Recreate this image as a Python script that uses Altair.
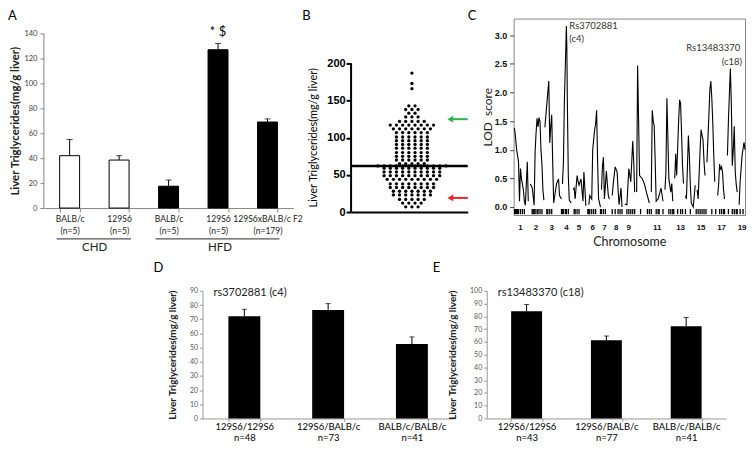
import json
from bisect import bisect_right

import altair as alt
import pandas as pd

FONT = "Lato"
SANS = "Liberation Sans"
YTITLE = "Liver Triglycerides(mg/g liver)"

# ---------------- panel A data ----------------
a_keys = ["chd_balb", "chd_129", "hfd_balb", "hfd_129", "hfd_f2"]
a_strain = ["BALB/c", "129S6", "BALB/c", "129S6", "129S6xBALB/c F2"]
a_n = ["(n=5)", "(n=5)", "(n=5)", "(n=5)", "(n=179)"]
a_diet = ["CHD", "CHD", "HFD", "HFD", "HFD"]
a_mean = [42, 38.5, 17.5, 127, 69]
a_err = [13, 3.5, 5, 5, 2.5]
a_sig = ["", "", "", "* $", ""]
a_yticks = [0, 20, 40, 60, 80, 100, 120, 140]
a_groups = ["CHD", "HFD"]
a_group_start = ["chd_balb", "hfd_balb"]
a_group_end = ["chd_129", "hfd_f2"]
a_group_label_key = ["chd_balb", "hfd_129"]
a_group_label_dx = [25, 2]

# ---------------- panel B data ----------------
b_levels = [7, 12, 17, 23, 28, 33, 38, 44, 49, 54, 59, 62, 65, 70, 75, 80, 86, 91,
            96, 101, 107, 112, 117, 122, 128, 133, 138, 143, 166, 173, 187]
b_counts = [3, 4, 5, 7, 7, 8, 8, 9, 10, 10, 10, 12, 5, 6, 6, 6, 6, 6,
            6, 6, 6, 7, 8, 5, 3, 2, 3, 2, 1, 1, 1]
b_yticks = [0, 50, 100, 150, 200]
b_arrow_values = [125, 19]
b_arrow_colors = ["#2db34a", "#e8262b"]

# ---------------- panel C data ----------------
c_chrom_names = ["1", "2", "3", "4", "5", "6", "7", "8", "9", "11", "13", "15", "17", "19"]
c_chrom_centers = [7, 23, 39, 54, 67, 81, 93, 105, 118, 147, 171, 192, 213, 234]
c_chrom_starts = [0, 16.5, 31.5, 49.5, 60.5, 75.5, 89.5, 99.5, 112.5, 125, 140,
                  154.5, 164.5, 175.5, 187.5, 197.5, 207.5, 217.5, 230.5]
lod_x = [0.5, 1, 2, 3, 4, 5, 6, 7, 8, 9, 10, 11, 12, 14, 15,
         17, 19, 21, 22, 23, 24, 25, 26, 27, 28, 29, 30, 31,
         32, 34, 36, 37, 38, 39, 40, 41, 43, 44, 46, 47, 49,
         50, 51, 52, 53, 54, 54.5, 55, 56, 57, 59,
         61, 62, 63, 65, 66, 67, 69, 71, 72, 74,
         77, 78, 80, 81, 83, 84, 85, 86, 87, 89,
         90, 91, 92, 93, 95, 96, 97, 98,
         101, 102, 104, 106, 107, 108, 110, 111,
         114, 116, 118, 120, 122, 123, 124,
         126, 127, 128, 129, 132, 134, 136, 139,
         141, 142, 143, 144, 145, 146, 148, 151, 153,
         155, 156, 157, 158, 159, 161, 162, 163,
         165, 166, 167, 169, 170, 171, 172, 173, 174,
         176, 177, 179, 180, 181, 182, 184, 186,
         188, 189, 191, 192, 193, 194, 195, 196,
         198, 200, 201, 202, 203, 204, 205, 206,
         209, 210, 211, 212, 213, 214, 215, 216,
         219, 220, 221, 222, 223, 224, 225, 226, 227, 228, 229,
         231, 232, 234, 236, 237]
lod_y = [1.38, 1.36, 1.2, 1.01, 0.9, 0.79, 0.1, 0.67, 0.5, 0.4, 0.3, 0.1, 0.03, 0.79, 0.1,
         0.4, 0.34, 0.03, 0.96, 1.3, 1.55, 1.4, 1.56, 1.5, 1.0, 0.75, 0.3, 0.12,
         1.39, 1.8, 2.2, 1.12, 1.4, 1.61, 0.78, 0.07, 0.3, 0.41, 0.49, 0.2, 0.14,
         0.4, 0.78, 1.87, 2.5, 3.16, 2.8, 1.87, 0.55, 0.12, 0.07,
         0.3, 0.33, 0.14, 0.55, 0.45, 0.38, 0.49, 0.1, 0.61, 0.02,
         0.04, 0.2, 0.14, 1.0, 1.35, 1.45, 1.69, 0.8, 0.14, 0.0,
         0.3, 0.72, 0.87, 0.14, 0.63, 0.4, 0.2, 0.14,
         0.2, 0.4, 0.7, 0.61, 0.3, 0.04, 0.33, 0.0,
         0.05, 0.04, 0.67, 0.44, 1.15, 0.8, 0.26,
         0.26, 2.47, 1.5, 0.55, 0.49, 0.4, 0.26, 0.07,
         0.26, 1.69, 1.5, 1.41, 0.8, 0.1, 0.14, 0.33, 0.1,
         0.3, 0.61, 1.9, 1.2, 0.49, 0.26, 0.41, 0.1,
         0.5, 0.93, 0.55, 1.5, 1.87, 1.81, 1.3, 0.72, 0.41,
         0.2, 0.14, 1.25, 0.9, 0.38, 0.07, 0.0, 0.38,
         0.3, 0.14, 1.0, 1.35, 1.25, 1.17, 0.8, 0.55,
         0.78, 1.6, 2.05, 2.2, 1.9, 1.47, 0.9, 0.44,
         0.2, 0.4, 0.75, 0.65, 0.7, 0.61, 0.3, 0.14,
         0.9, 1.5, 1.97, 2.42, 1.8, 0.72, 1.0, 1.41, 0.61, 0.4, 0.26,
         0.04, 0.44, 0.9, 1.13, 1.0]
c_marker_x = [1, 2, 3, 4, 5, 7, 9, 11, 19, 20, 21, 22, 24, 25, 27, 29, 34, 35, 37, 39,
              49, 50, 51, 53, 54, 56, 62, 63, 65, 67, 76, 77, 78, 80, 82, 84, 89, 90, 92, 94,
              101, 104, 107, 109, 111, 116, 118, 120, 122, 124, 130, 137, 139, 141, 146, 148,
              149, 153, 159, 161, 163, 164, 168, 171, 173, 176, 181, 187, 189, 191, 193, 195,
              197, 203, 207, 211, 213, 215, 216, 220, 224, 226, 228, 229, 232, 235]
c_yticks = [0, 0.5, 1.0, 1.5, 2.0, 2.5, 3.0]
c_annot_left_text = ["Rs3702881", "(c4)"]
c_annot_left_x = [57, 57]
c_annot_left_y = [3.16, 2.93]
c_annot_right_text = ["Rs13483370", "(c18)"]
c_annot_right_x = [232, 234]
c_annot_right_y = [2.78, 2.54]

# ---------------- panels D / E data ----------------
g_keys = ["129S6/129S6", "129S6/BALB/c", "BALB/c/BALB/c"]
d_title = "rs3702881 (c4)"
d_n = ["n=48", "n=73", "n=41"]
d_mean = [72, 76.5, 52.5]
d_err = [5, 4.5, 5]
e_title = "rs13483370 (c18)"
e_n = ["n=43", "n=77", "n=41"]
e_mean = [84, 61.3, 72.3]
e_err = [5.3, 3.3, 6.8]


def text_df(t):
    return pd.DataFrame({"t": [t]})


def letter(t, x, y):
    return alt.Chart(text_df(t)).mark_text(
        align="left", baseline="top", font=FONT, fontSize=13, color="black"
    ).encode(x=alt.value(x), y=alt.value(y), text="t:N")


def gap(w):
    return alt.Chart(text_df("")).mark_point(opacity=0, size=1).encode(
        x=alt.value(0), y=alt.value(0)).properties(width=w, height=1)


# ======================= Panel A =======================
A_H = 190
A_TOP = 140 * A_H / 175.0
dfa = pd.DataFrame({
    "key": a_keys, "mean": a_mean,
    "top": [m + e for m, e in zip(a_mean, a_err)],
    "diet": a_diet, "sig": a_sig,
})
a_labmap = json.dumps({k: [s, n] for k, s, n in zip(a_keys, a_strain, a_n)})
a_x = alt.X(
    "key:N", sort=a_keys, title=None,
    scale=alt.Scale(domain=a_keys, paddingInner=0.6, paddingOuter=0.32),
    axis=alt.Axis(labelExpr=f"{a_labmap}[datum.value]", labelAngle=0, labelFont=FONT,
                  labelFontSize=8.6, labelColor="#222", labelLineHeight=12.5, labelPadding=2,
                  tickBand="extent", tickSize=4, tickColor="#888", domainColor="#888",
                  grid=False, labelOverlap=False),
)
a_y = alt.Y(
    "mean:Q", scale=alt.Scale(domain=[0, A_TOP], nice=False),
    axis=alt.Axis(values=a_yticks, tickCount=20, title=YTITLE, titleFont=FONT,
                  titleFontSize=11.5, titleFontWeight="bold", titleColor="#222",
                  titlePadding=3, titleY=(A_H - 175) + 87.5, labelFont=FONT,
                  labelFontSize=7.5, labelColor="#404040", labelPadding=3, tickSize=4,
                  tickColor="#888", domain=False, grid=False, labelOverlap=False),
)
a_bars = alt.Chart(dfa).mark_bar(size=20, stroke="black", strokeWidth=1).encode(
    x=a_x, y=a_y,
    fill=alt.Fill("diet:N", scale=alt.Scale(domain=["CHD", "HFD"], range=["white", "black"]), legend=None),
)
a_axisline = alt.Chart(text_df("")).mark_rule(color="#888", strokeWidth=1).encode(
    x=alt.value(0), y=alt.datum(0), y2=alt.datum(140))
a_err_rule = alt.Chart(dfa).mark_rule(color="black", strokeWidth=1).encode(x=a_x, y="mean:Q", y2="top:Q")
a_cap = alt.Chart(dfa).mark_tick(color="black", thickness=1, size=6).encode(x=a_x, y="top:Q")
a_sig_text = alt.Chart(dfa).mark_text(font=FONT, fontSize=13, baseline="middle", dy=-12,
                                      color="black").encode(x=a_x, y="top:Q", text="sig:N")
dfg = pd.DataFrame({"key": a_group_start, "key_end": a_group_end, "label": a_groups})
a_grp_rule = alt.Chart(dfg).mark_rule(color="#555", strokeWidth=1.2, xOffset=-13, x2Offset=12).encode(
    x=a_x, x2="key_end:N", y=alt.value(A_H + 31))
a_grp_texts = []
for gk, gl, gdx in zip(a_group_label_key, a_groups, a_group_label_dx):
    a_grp_texts.append(
        alt.Chart(pd.DataFrame({"key": [gk], "label": [gl]})).mark_text(
            font=FONT, fontSize=11.5, baseline="middle", dx=gdx, color="#222"
        ).encode(x=a_x, y=alt.value(A_H + 40), text="label:N")
    )
panel_a = alt.layer(a_bars, a_axisline, a_err_rule, a_cap, a_sig_text, a_grp_rule, *a_grp_texts,
                    letter("A", -36, -9)).properties(width=250, height=A_H)

# ======================= Panel B =======================
B_H = 194
B_W = 117
B_CENTER = 61   # horizontal centre of the dot strip, in plot units
B_TOP = 200 * B_H / 149.0
b_rows = []
for lvl, cnt in zip(b_levels, b_counts):
    for i in range(cnt):
        b_rows.append({"value": lvl, "pos": B_CENTER + (i - (cnt - 1) / 2) * 6.2})
dfb = pd.DataFrame(b_rows)
b_x = alt.X("pos:Q", scale=alt.Scale(domain=[0, B_W], range=[0, B_W], nice=False, zero=False),
            axis=alt.Axis(title=None, labels=False, ticks=False, grid=False,
                          domainColor="black", domainWidth=2))
b_y = alt.Y("value:Q", scale=alt.Scale(domain=[0, B_TOP], nice=False),
            axis=alt.Axis(values=b_yticks, tickCount=20, title=YTITLE, titleFont=FONT,
                          titleFontSize=11, titleFontWeight="normal", titleColor="black",
                          titlePadding=8, titleY=(B_H - 149) + 74, labelFont=SANS,
                          labelFontWeight="bold", labelFontSize=11, labelColor="black",
                          tickColor="black", tickWidth=2, tickSize=5, domain=False,
                          labelPadding=1, grid=False, labelOverlap=False))
b_dots = alt.Chart(dfb).mark_circle(size=11, color="black", opacity=1).encode(x=b_x, y=b_y)
b_axisline = alt.Chart(text_df("")).mark_rule(color="black", strokeWidth=2).encode(
    x=alt.value(0), y=alt.datum(0), y2=alt.datum(200))
b_med = alt.Chart(dfb).mark_rule(color="black", strokeWidth=2.5).encode(y="median(value):Q")
dfar = pd.DataFrame({"value": b_arrow_values, "color": b_arrow_colors})
b_ar_rule = alt.Chart(dfar).mark_rule(strokeWidth=2).encode(
    x=alt.value(100), x2=alt.value(B_W), y="value:Q", color=alt.Color("color:N", scale=None))
b_ar_head = alt.Chart(dfar).mark_point(shape="triangle-left", filled=True, size=45, opacity=1).encode(
    x=alt.value(99.5), y="value:Q", color=alt.Color("color:N", scale=None))
panel_b = alt.layer(b_dots, b_axisline, b_med, b_ar_rule, b_ar_head, letter("B", -49, -9)).properties(
    width=B_W, height=B_H)

# ======================= Panel C =======================
C_H = 197
C_W = 232
lod_chrom = [bisect_right(c_chrom_starts, x) for x in lod_x]
dfc = pd.DataFrame({"pos": lod_x, "lod": lod_y, "chrom": lod_chrom})
dfm = pd.DataFrame({"pos": c_marker_x})
dfcl = pd.DataFrame({"pos": c_chrom_centers, "name": c_chrom_names})
c_x = alt.X("pos:Q", scale=alt.Scale(domain=[0, 237], nice=False, zero=False),
            axis=alt.Axis(labels=False, title="Chromosome", titleFont=FONT, titleFontSize=12.5,
                          titleFontWeight="normal", titleColor="#222", titlePadding=21,
                          ticks=False, domain=False, grid=False))
c_y = alt.Y("lod:Q", scale=alt.Scale(domain=[-0.14, 3.29], nice=False, zero=False),
            axis=alt.Axis(values=c_yticks, tickCount=20, format=".1f", title="LOD\u00a0\u00a0score",
                          titleFont=FONT, titleFontSize=12, titleFontWeight="normal",
                          titleColor="#222", titlePadding=0, labelFont=SANS,
                          labelFontWeight="bold", labelFontSize=9, labelColor="#111",
                          labelPadding=3, tickSize=4, tickColor="#444", domain=False,
                          grid=False, labelOverlap=False))
c_line = alt.Chart(dfc).mark_line(color="black", strokeWidth=1.1).encode(
    x=c_x, y=c_y, detail="chrom:N")
c_rug = alt.Chart(dfm).mark_rule(color="black", strokeWidth=1.3).encode(
    x="pos:Q", y=alt.datum(-0.125), y2=alt.datum(-0.035))
c_chr_labels = alt.Chart(dfcl).mark_text(font=SANS, fontWeight="bold", fontSize=8,
                                         baseline="middle", color="#111").encode(
    x="pos:Q", y=alt.value(C_H + 13.5), text="name:N")
c_al = alt.Chart(pd.DataFrame({"pos": c_annot_left_x, "lod": c_annot_left_y, "t": c_annot_left_text})
                 ).mark_text(align="left", baseline="middle", font=FONT, fontSize=9.5, color="#333"
                             ).encode(x="pos:Q", y="lod:Q", text="t:N")
c_ar = alt.Chart(pd.DataFrame({"pos": c_annot_right_x, "lod": c_annot_right_y, "t": c_annot_right_text})
                 ).mark_text(align="right", baseline="middle", font=FONT, fontSize=9.5, color="#333"
                             ).encode(x="pos:Q", y="lod:Q", text="t:N")
panel_c = alt.layer(c_line, c_rug, c_chr_labels, c_al, c_ar, letter("C", -46, -9)).properties(
    width=C_W, height=C_H, view=alt.ViewBackground(stroke="#888", strokeWidth=1))


# ======================= Panels D / E =======================
def geno_panel(ns, means, errs, ymax, width, pad_inner, pad_outer, bar_w, title_txt,
               letter_txt, letter_x):
    df = pd.DataFrame({"geno": g_keys, "mean": means,
                       "top": [m + e for m, e in zip(means, errs)]})
    labmap = json.dumps(dict(zip(g_keys, ns)))
    x = alt.X("geno:N", sort=g_keys, title=None,
              scale=alt.Scale(domain=g_keys, paddingInner=pad_inner, paddingOuter=pad_outer),
              axis=alt.Axis(labelExpr=f"[datum.value, {labmap}[datum.value]]", labelAngle=0,
                            labelFont=FONT, labelFontSize=9.5, labelColor="black",
                            labelLineHeight=11, labelPadding=0, tickBand="extent", tickSize=3,
                            tickColor="#999", domainColor="#999", grid=False, labelOverlap=False))
    y = alt.Y("mean:Q", scale=alt.Scale(domain=[0, ymax], nice=False),
              axis=alt.Axis(values=list(range(0, ymax + 1, 10)), tickCount=30, title=YTITLE,
                            titleFont=FONT, titleFontSize=10, titleFontWeight="bold",
                            titleColor="#222", titlePadding=12, labelFont=FONT, labelFontSize=7,
                            labelColor="#555", labelPadding=2, tickSize=3, tickColor="#999",
                            domainColor="#999", grid=False, labelOverlap=False))
    bars = alt.Chart(df).mark_bar(color="black", size=bar_w).encode(x=x, y=y)
    err = alt.Chart(df).mark_rule(color="black", strokeWidth=1).encode(x=x, y="mean:Q", y2="top:Q")
    cap = alt.Chart(df).mark_tick(color="black", thickness=1, size=5).encode(x=x, y="top:Q")
    ttl = alt.Chart(text_df(title_txt)).mark_text(
        align="left", baseline="middle", font=FONT, fontSize=11, color="#222"
    ).encode(x=alt.value(11), y=alt.value(2), text="t:N")
    return alt.layer(bars, err, cap, ttl, letter(letter_txt, letter_x, -29)).properties(
        width=width, height=128)


panel_d = geno_panel(d_n, d_mean, d_err, 90, 252, 0.62, 0.31, 32, d_title, "D", -49)
panel_e = geno_panel(e_n, e_mean, e_err, 100, 240, 0.61, 0.305, 31, e_title, "E", -54)

top_row = alt.hconcat(panel_a, gap(58), panel_b, gap(46), panel_c, spacing=0, bounds="flush")
bottom_row = alt.hconcat(gap(159), panel_d, gap(33), panel_e, spacing=0, bounds="flush")

chart = alt.vconcat(top_row, bottom_row, spacing=8).properties(
    padding={"left": 0, "top": 0, "right": 0, "bottom": 0}
).configure(font=FONT).configure_view(strokeWidth=0)

chart.save("out.html", embed_options={"renderer": "svg", "actions": False})
